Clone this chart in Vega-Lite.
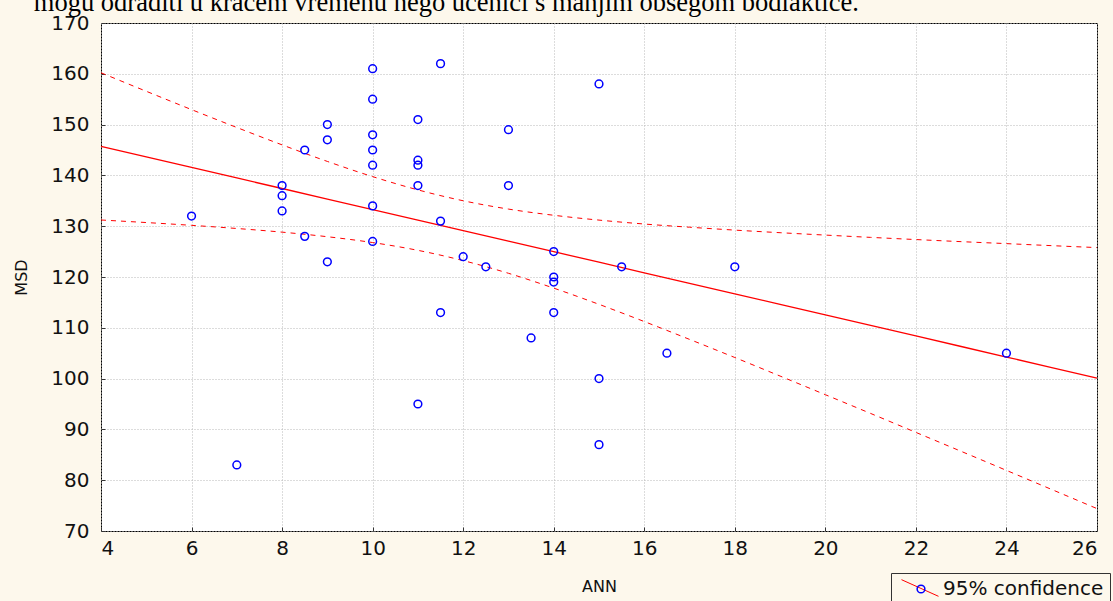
{
  "$schema": "https://vega.github.io/schema/vega-lite/v6.json",
  "autosize": {"type": "none"},
  "width": 996,
  "height": 508,
  "padding": {"left": 101, "top": 23, "right": 16, "bottom": 70},
  "background": "#FDF8EC",
  "title": {
    "text": "mogu odraditi u kraćem vremenu nego učenici s manjim obsegom bodiaktice.",
    "font": "Liberation Serif",
    "fontSize": 26.5,
    "fontWeight": "normal",
    "color": "#000000",
    "anchor": "start",
    "baseline": "alphabetic",
    "dx": 20,
    "dy": 24,
    "offset": 0
  },
  "config": {
    "view": {"stroke": "#000000", "strokeWidth": 1, "fill": "#ffffff"},
    "axis": {
      "labelFont": "DejaVu Sans",
      "labelFontSize": 20,
      "labelColor": "#111111",
      "titleFont": "DejaVu Sans",
      "titleFontSize": 16,
      "titleFontWeight": "normal",
      "titleColor": "#111111",
      "domain": false,
      "grid": true,
      "gridColor": "#b8b8b8",
      "gridDash": [1, 2],
      "gridWidth": 1,
      "ticks": true,
      "tickColor": "#333333",
      "tickSize": -4,
      "tickWidth": 1
    }
  },
  "datasets": {
    "points": [
      {"ANN": 6, "MSD": 132}, {"ANN": 7, "MSD": 83},
      {"ANN": 8, "MSD": 138}, {"ANN": 8, "MSD": 136}, {"ANN": 8, "MSD": 133},
      {"ANN": 8.5, "MSD": 145}, {"ANN": 8.5, "MSD": 128},
      {"ANN": 9, "MSD": 150}, {"ANN": 9, "MSD": 147}, {"ANN": 9, "MSD": 123},
      {"ANN": 10, "MSD": 161}, {"ANN": 10, "MSD": 155}, {"ANN": 10, "MSD": 148}, {"ANN": 10, "MSD": 145}, {"ANN": 10, "MSD": 142}, {"ANN": 10, "MSD": 134}, {"ANN": 10, "MSD": 127},
      {"ANN": 11, "MSD": 151}, {"ANN": 11, "MSD": 143}, {"ANN": 11, "MSD": 142}, {"ANN": 11, "MSD": 138}, {"ANN": 11, "MSD": 95},
      {"ANN": 11.5, "MSD": 162}, {"ANN": 11.5, "MSD": 131}, {"ANN": 11.5, "MSD": 113},
      {"ANN": 12, "MSD": 124}, {"ANN": 12.5, "MSD": 122},
      {"ANN": 13, "MSD": 149}, {"ANN": 13, "MSD": 138}, {"ANN": 13.5, "MSD": 108},
      {"ANN": 14, "MSD": 125}, {"ANN": 14, "MSD": 120}, {"ANN": 14, "MSD": 119}, {"ANN": 14, "MSD": 113},
      {"ANN": 15, "MSD": 158}, {"ANN": 15, "MSD": 100}, {"ANN": 15, "MSD": 87},
      {"ANN": 15.5, "MSD": 122}, {"ANN": 16.5, "MSD": 105}, {"ANN": 18, "MSD": 122}, {"ANN": 24, "MSD": 105}
    ],
    "fit": [
      {"ANN": 4, "fit": 145.71, "upper": 160.2, "lower": 131.22},
      {"ANN": 5, "fit": 143.64, "upper": 156.56, "lower": 130.72},
      {"ANN": 6, "fit": 141.56, "upper": 152.95, "lower": 130.17},
      {"ANN": 7, "fit": 139.49, "upper": 149.43, "lower": 129.55},
      {"ANN": 8, "fit": 137.42, "upper": 146.01, "lower": 128.83},
      {"ANN": 9, "fit": 135.34, "upper": 142.75, "lower": 127.93},
      {"ANN": 10, "fit": 133.27, "upper": 139.76, "lower": 126.78},
      {"ANN": 11, "fit": 131.2, "upper": 137.15, "lower": 125.25},
      {"ANN": 12, "fit": 129.12, "upper": 135.01, "lower": 123.23},
      {"ANN": 13, "fit": 127.05, "upper": 133.37, "lower": 120.73},
      {"ANN": 14, "fit": 124.98, "upper": 132.15, "lower": 117.81},
      {"ANN": 15, "fit": 122.91, "upper": 131.2, "lower": 114.62},
      {"ANN": 16, "fit": 120.83, "upper": 130.43, "lower": 111.23},
      {"ANN": 17, "fit": 118.76, "upper": 129.8, "lower": 107.72},
      {"ANN": 18, "fit": 116.69, "upper": 129.23, "lower": 104.15},
      {"ANN": 19, "fit": 114.61, "upper": 128.72, "lower": 100.5},
      {"ANN": 20, "fit": 112.54, "upper": 128.25, "lower": 96.83},
      {"ANN": 21, "fit": 110.47, "upper": 127.8, "lower": 93.14},
      {"ANN": 22, "fit": 108.39, "upper": 127.37, "lower": 89.41},
      {"ANN": 23, "fit": 106.32, "upper": 126.96, "lower": 85.68},
      {"ANN": 24, "fit": 104.25, "upper": 126.57, "lower": 81.93},
      {"ANN": 25, "fit": 102.17, "upper": 126.17, "lower": 78.17},
      {"ANN": 26, "fit": 100.1, "upper": 125.79, "lower": 74.41}
    ]
  },
  "layer": [
    {
      "data": {"name": "fit"},
      "mark": {"type": "line", "color": "#ff0000", "strokeWidth": 1, "strokeDash": [5, 5], "interpolate": "monotone"},
      "encoding": {
        "x": {"field": "ANN", "type": "quantitative", "scale": {"domain": [4, 26], "nice": false, "zero": false},
              "axis": {"title": "ANN", "values": [4, 6, 8, 10, 12, 14, 16, 18, 20, 22, 24, 26], "labelPadding": 11, "titlePadding": 20}},
        "y": {"field": "upper", "type": "quantitative", "scale": {"domain": [70, 170], "nice": false, "zero": false},
              "axis": {"title": "MSD", "values": [70, 80, 90, 100, 110, 120, 130, 140, 150, 160, 170], "labelPadding": 16, "titlePadding": 21}}
      }
    },
    {
      "data": {"name": "fit"},
      "mark": {"type": "line", "color": "#ff0000", "strokeWidth": 1, "strokeDash": [5, 5], "interpolate": "monotone"},
      "encoding": {
        "x": {"field": "ANN", "type": "quantitative"},
        "y": {"field": "lower", "type": "quantitative"}
      }
    },
    {
      "data": {"name": "fit"},
      "mark": {"type": "line", "strokeWidth": 1.3},
      "encoding": {
        "x": {"field": "ANN", "type": "quantitative"},
        "y": {"field": "fit", "type": "quantitative"},
        "stroke": {
          "datum": "Regression",
          "type": "nominal",
          "scale": {"range": ["#ff0000"]},
          "legend": {
            "title": null,
            "orient": "none",
            "legendX": 794,
            "legendY": 540,
            "strokeColor": null,
            "fillColor": null,
            "padding": 6,
            "labelExpr": "''",
            "labelFont": "DejaVu Sans",
            "labelFontSize": 20,
            "symbolType": "M-1,-0.45L1,0.45",
            "symbolSize": 1369,
            "symbolStrokeWidth": 1,
            "symbolFillColor": "transparent",
            "symbolStrokeColor": "#ff0000"
          }
        }
      }
    },
    {
      "data": {"name": "points"},
      "mark": {"type": "point", "shape": "circle", "filled": false, "strokeWidth": 1.5, "size": 60, "opacity": 1},
      "encoding": {
        "x": {"field": "ANN", "type": "quantitative"},
        "y": {"field": "MSD", "type": "quantitative"},
        "color": {
          "datum": "95% confidence",
          "type": "nominal",
          "scale": {"range": ["#0000ff"]},
          "legend": {
            "title": null,
            "orient": "none",
            "legendX": 790,
            "legendY": 550,
            "strokeColor": "#333333",
            "padding": 6,
            "symbolOffset": 14,
            "labelOffset": 12,
            "labelFont": "DejaVu Sans",
            "labelFontSize": 20,
            "labelColor": "#111111",
            "symbolType": "circle",
            "symbolSize": 60,
            "symbolStrokeWidth": 1.5,
            "symbolFillColor": "#ffffff",
            "labelLimit": 300
          }
        }
      }
    }
  ]
}
